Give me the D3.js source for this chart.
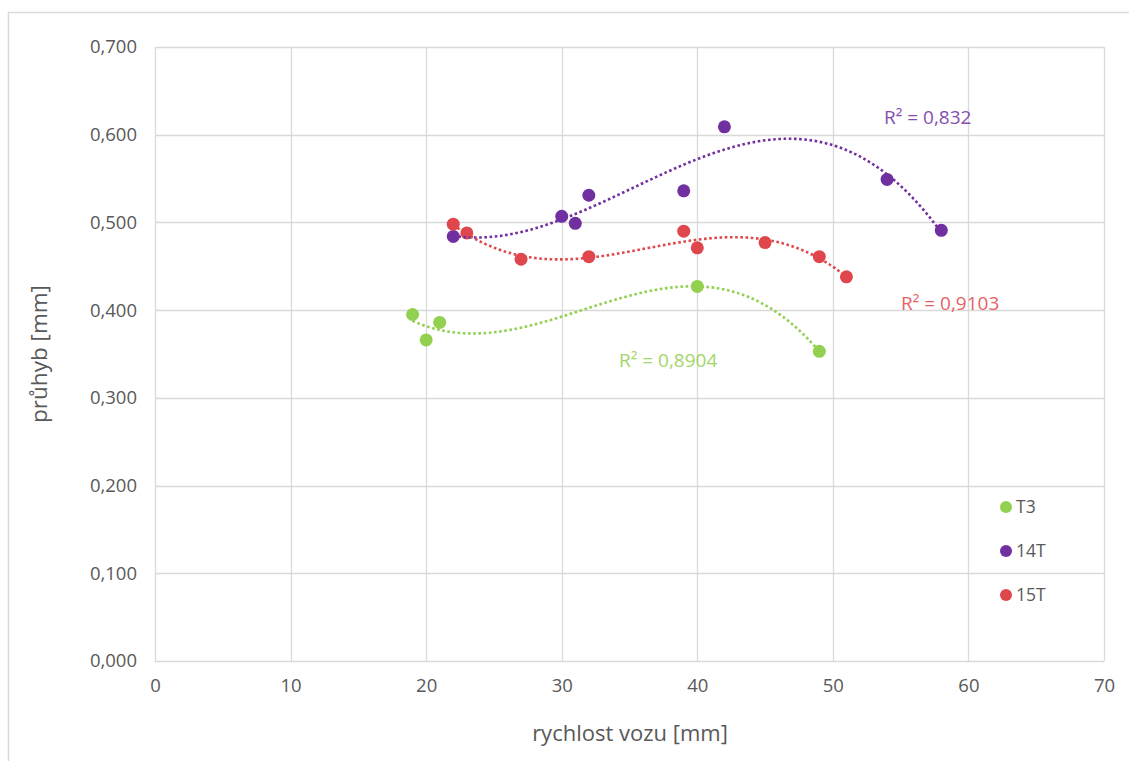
<!DOCTYPE html>
<html><head><meta charset="utf-8">
<script src="https://cdn.jsdelivr.net/npm/d3@7"></script>
<style>
html,body{margin:0;padding:0;background:#fff;}
text{font-family:"Open Sans",sans-serif;}
</style></head>
<body>
<svg id="chart" width="1129" height="761"></svg>
<script>
// ---- data ----
const seriesNames = ["T3", "14T", "15T"];
const seriesColors = ["#92D050", "#7030A0", "#E0474C"];
const t3X = [19, 20, 21, 40, 49];
const t3Y = [0.395, 0.366, 0.386, 0.427, 0.353];
const t14X = [22, 30, 31, 32, 39, 42, 54, 58];
const t14Y = [0.484, 0.507, 0.499, 0.531, 0.536, 0.609, 0.549, 0.491];
const t15X = [22, 23, 27, 32, 39, 40, 45, 49, 51];
const t15Y = [0.498, 0.488, 0.458, 0.461, 0.490, 0.471, 0.477, 0.461, 0.438];
const r2Labels = ["R² = 0,8904", "R² = 0,832", "R² = 0,9103"];
const xTicks = [0, 10, 20, 30, 40, 50, 60, 70];
const yTicks = [0, 0.1, 0.2, 0.3, 0.4, 0.5, 0.6, 0.7];
const xTitle = "rychlost vozu [mm]";
const yTitle = "průhyb [mm]";

const series = [
  {name: seriesNames[0], color: seriesColors[0], xs: t3X, ys: t3Y, label: r2Labels[0], lx: 619, ly: 367},
  {name: seriesNames[1], color: seriesColors[1], xs: t14X, ys: t14Y, label: r2Labels[1], lx: 884, ly: 124},
  {name: seriesNames[2], color: seriesColors[2], xs: t15X, ys: t15Y, label: r2Labels[2], lx: 901, ly: 310}
];

const svg = d3.select("#chart");
const L = 155, R = 1104, T = 47, B = 661;
const x = d3.scaleLinear().domain([0, 70]).range([L, R]);
const y = d3.scaleLinear().domain([0, 0.7]).range([B, T]);

// outer border
svg.append("rect").attr("x", 8.5).attr("y", 12.5).attr("width", 1140).attr("height", 780)
  .attr("fill", "#fff").attr("stroke", "#D9D9D9").attr("stroke-width", 1.5);

// gridlines
svg.append("g").selectAll("line.h").data(yTicks).join("line")
  .attr("x1", L).attr("x2", R).attr("y1", d => Math.round(y(d)) + 0.5).attr("y2", d => Math.round(y(d)) + 0.5)
  .attr("stroke", "#D9D9D9").attr("stroke-width", 1.3);
svg.append("g").selectAll("line.v").data(xTicks).join("line")
  .attr("y1", T).attr("y2", B).attr("x1", d => Math.round(x(d)) + 0.5).attr("x2", d => Math.round(x(d)) + 0.5)
  .attr("stroke", "#D9D9D9").attr("stroke-width", 1.3);

// axes via d3
const fmt = d3.format(".3f");
const yAxis = d3.axisLeft(y).tickValues(yTicks).tickSize(0).tickPadding(18)
  .tickFormat(d => fmt(d).replace(".", ","));
const xAxis = d3.axisBottom(x).tickValues(xTicks).tickSize(0).tickPadding(18)
  .tickFormat(d3.format("d"));
const gy = svg.append("g").attr("transform", `translate(${L},0)`).call(yAxis);
const gx = svg.append("g").attr("transform", `translate(0,${B})`).call(xAxis);
[gx, gy].forEach(g => {
  g.select(".domain").remove();
  g.selectAll("text").attr("fill", "#595959").style("font-size", "18.5px");
});

// axis titles
svg.append("text").attr("x", 630).attr("y", 741).attr("text-anchor", "middle")
  .attr("fill", "#595959").style("font-size", "22px").text(xTitle);
svg.append("text").attr("transform", `translate(47,${(T + B) / 2}) rotate(-90)`).attr("text-anchor", "middle")
  .attr("fill", "#595959").style("font-size", "22.5px").text(yTitle);

// polynomial (order 3) least squares fit
function polyfit(xs, ys, order) {
  const n = order + 1;
  const A = Array.from({length: n}, () => new Array(n + 1).fill(0));
  xs.forEach((xv, k) => {
    for (let i = 0; i < n; i++) {
      for (let j = 0; j < n; j++) A[i][j] += Math.pow(xv, i + j);
      A[i][n] += ys[k] * Math.pow(xv, i);
    }
  });
  for (let c = 0; c < n; c++) {
    let p = c;
    for (let r = c + 1; r < n; r++) if (Math.abs(A[r][c]) > Math.abs(A[p][c])) p = r;
    [A[c], A[p]] = [A[p], A[c]];
    for (let r = 0; r < n; r++) {
      if (r === c) continue;
      const f = A[r][c] / A[c][c];
      for (let k = c; k <= n; k++) A[r][k] -= f * A[c][k];
    }
  }
  return A.map((row, i) => row[n] / row[i]);
}

const line = d3.line().x(d => x(d[0])).y(d => y(d[1])).curve(d3.curveLinear);

series.forEach(s => {
  const coef = polyfit(s.xs, s.ys, 3);
  const [x0, x1] = d3.extent(s.xs);
  s.pts = d3.range(0, 201).map(i => {
    const xv = x0 + (x1 - x0) * i / 200;
    return [xv, coef.reduce((acc, c, p) => acc + c * Math.pow(xv, p), 0)];
  });
});

// markers
series.forEach(s => {
  svg.append("g").selectAll("circle").data(s.xs.map((xv, i) => [xv, s.ys[i]])).join("circle")
    .attr("cx", d => x(d[0])).attr("cy", d => y(d[1])).attr("r", 6.5)
    .attr("fill", s.color);
});
// trendlines
series.forEach(s => {
  svg.append("path").datum(s.pts).attr("d", line).attr("fill", "none")
    .attr("stroke", s.color).attr("stroke-width", 2.6).attr("stroke-dasharray", "2.6,2.6");
});
// R² labels
series.forEach(s => {
  svg.append("text").attr("x", s.lx).attr("y", s.ly).attr("fill", s.color).attr("opacity", 0.85)
    .style("font-size", "19px").text(s.label);
});

// legend
const lg = svg.append("g");
series.forEach((s, i) => {
  const cy = 507 + i * 44;
  lg.append("circle").attr("cx", 1006).attr("cy", cy).attr("r", 6).attr("fill", s.color);
  lg.append("text").attr("x", 1016).attr("y", cy + 6).attr("fill", "#595959")
    .style("font-size", "17.5px").text(s.name);
});
</script>
</body></html>
